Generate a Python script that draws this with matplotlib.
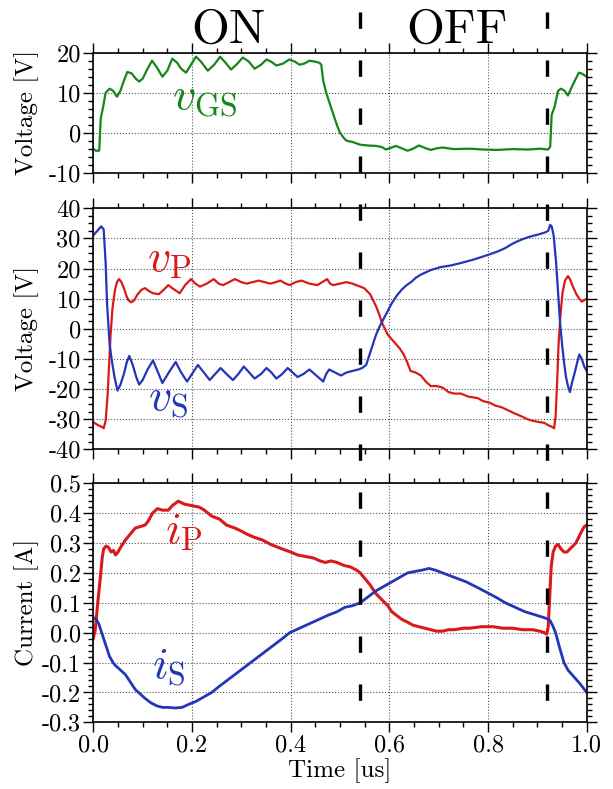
import matplotlib
matplotlib.use('Agg')
import matplotlib.pyplot as plt
import numpy as np
from matplotlib.ticker import MultipleLocator, FormatStrFormatter
from matplotlib.transforms import blended_transform_factory
from matplotlib.lines import Line2D

plt.rcParams['font.family'] = 'serif'
plt.rcParams['font.serif'] = ['cmr10']
plt.rcParams['mathtext.fontset'] = 'cm'
plt.rcParams['axes.unicode_minus'] = False
plt.rcParams['axes.formatter.use_mathtext'] = True

#===============================================================
# DATA
#===============================================================
# gate-source voltage [V]
vgs_pts = [(0.0, -4.0), (0.005, -4.5), (0.012, -4.5), (0.015, 3.5), (0.02, 6.5), (0.025, 10.0),
           (0.033, 11.0), (0.04, 10.5), (0.048, 9.0), (0.055, 10.5), (0.062, 13.0), (0.069, 15.2),
           (0.078, 14.8), (0.086, 13.5), (0.093, 12.8), (0.1, 13.5), (0.11, 16.0), (0.119, 18.0),
           (0.128, 16.5), (0.14, 14.0), (0.15, 15.5), (0.16, 18.5), (0.17, 17.5), (0.178, 16.0),
           (0.188, 15.0), (0.198, 17.0), (0.208, 19.0), (0.218, 17.8), (0.232, 15.5), (0.245, 17.0),
           (0.257, 19.0), (0.268, 17.5), (0.279, 15.8), (0.29, 17.0), (0.303, 18.8), (0.315, 17.8),
           (0.327, 16.0), (0.34, 17.0), (0.351, 18.3), (0.36, 17.8), (0.371, 16.8), (0.385, 17.3),
           (0.397, 18.3), (0.408, 17.8), (0.418, 17.0), (0.428, 17.3), (0.438, 18.0), (0.448, 17.8),
           (0.458, 17.5), (0.462, 17.0), (0.466, 13.0), (0.472, 10.0), (0.48, 7.0), (0.488, 4.0),
           (0.495, 1.5), (0.5, 0.0), (0.507, -1.2), (0.513, -2.0), (0.525, -2.3), (0.541, -3.0),
           (0.557, -3.2), (0.573, -3.3), (0.585, -3.6), (0.593, -4.2), (0.603, -3.8), (0.613, -3.3),
           (0.625, -3.9), (0.637, -4.5), (0.648, -4.0), (0.66, -3.2), (0.672, -3.8), (0.684, -4.3),
           (0.696, -3.9), (0.708, -3.7), (0.73, -4.1), (0.763, -4.0), (0.79, -4.2), (0.819, -4.3),
           (0.85, -4.1), (0.883, -4.2), (0.905, -4.0), (0.922, -4.2), (0.926, -3.5), (0.929, 4.5),
           (0.935, 6.5), (0.942, 10.5), (0.948, 11.0), (0.955, 10.5), (0.962, 9.3), (0.97, 11.5),
           (0.978, 13.5), (0.984, 15.0), (0.99, 14.8), (1.0, 14.0)]

# primary / secondary voltage [V]
vp_pts = [(0.0, -31.0), (0.01, -32.0), (0.017, -32.5), (0.021, -33.0), (0.025, -30.5), (0.029, -22.0),
          (0.032, -12.0), (0.035, -2.0), (0.039, 7.0), (0.044, 13.0), (0.048, 15.5), (0.052, 16.5),
          (0.057, 15.5), (0.062, 13.5), (0.067, 11.0), (0.071, 9.5), (0.077, 8.8), (0.083, 9.5),
          (0.09, 11.5), (0.098, 13.0), (0.105, 13.5), (0.113, 12.5), (0.121, 11.8), (0.133, 11.5),
          (0.143, 13.0), (0.152, 14.5), (0.16, 13.5), (0.175, 11.8), (0.186, 14.5), (0.198, 16.5),
          (0.207, 15.0), (0.216, 14.0), (0.23, 15.0), (0.244, 16.5), (0.254, 15.0), (0.263, 14.5),
          (0.275, 15.5), (0.287, 16.5), (0.3, 15.5), (0.311, 15.0), (0.323, 15.5), (0.335, 16.0),
          (0.347, 15.5), (0.359, 15.0), (0.37, 15.5), (0.379, 16.0), (0.39, 15.0), (0.398, 14.5),
          (0.41, 15.5), (0.422, 16.0), (0.438, 15.0), (0.454, 14.5), (0.464, 15.5), (0.474, 16.5),
          (0.48, 15.0), (0.486, 14.5), (0.5, 15.0), (0.513, 15.5), (0.525, 15.0), (0.533, 14.5),
          (0.541, 14.0), (0.549, 13.5), (0.555, 12.5), (0.561, 11.5), (0.567, 9.5), (0.573, 7.5),
          (0.579, 5.0), (0.585, 2.0), (0.591, 0.0), (0.597, -2.0), (0.605, -3.5), (0.613, -5.0),
          (0.621, -6.5), (0.629, -8.5), (0.636, -11.0), (0.643, -14.0), (0.653, -14.5), (0.664, -15.5),
          (0.674, -17.5), (0.684, -19.0), (0.696, -19.0), (0.708, -19.5), (0.72, -21.0), (0.732, -21.5),
          (0.745, -21.5), (0.76, -22.5), (0.779, -23.0), (0.79, -24.0), (0.803, -24.5), (0.815, -25.5),
          (0.827, -26.0), (0.84, -27.0), (0.853, -28.0), (0.867, -29.0), (0.88, -30.0), (0.89, -30.5),
          (0.905, -31.0), (0.914, -31.2), (0.922, -32.0), (0.929, -32.5), (0.934, -33.0), (0.937, -29.0),
          (0.94, -18.0), (0.943, -5.0), (0.947, 5.0), (0.951, 12.0), (0.956, 16.0), (0.962, 17.5),
          (0.966, 16.5), (0.972, 14.0), (0.979, 11.5), (0.985, 10.0), (0.99, 9.0), (0.995, 9.5),
          (1.0, 10.0)]

vs_pts = [(0.0, 31.0), (0.008, 32.5), (0.016, 34.0), (0.021, 33.0), (0.025, 22.0), (0.028, 8.0),
          (0.033, -5.0), (0.038, -11.0), (0.043, -16.0), (0.049, -20.5), (0.055, -18.5), (0.062, -15.0),
          (0.068, -11.0), (0.073, -9.0), (0.08, -12.0), (0.087, -16.0), (0.093, -18.5), (0.1, -17.0),
          (0.11, -13.5), (0.121, -10.5), (0.13, -14.0), (0.14, -18.0), (0.153, -14.5), (0.167, -11.0),
          (0.178, -14.5), (0.19, -17.5), (0.2, -15.0), (0.212, -12.0), (0.224, -14.5), (0.236, -17.0),
          (0.247, -15.0), (0.258, -13.0), (0.27, -15.0), (0.283, -17.0), (0.294, -15.0), (0.305, -12.5),
          (0.316, -14.5), (0.327, -16.5), (0.34, -15.0), (0.351, -13.0), (0.361, -14.5), (0.371, -16.5),
          (0.383, -15.0), (0.394, -13.0), (0.404, -14.5), (0.414, -16.0), (0.426, -15.0), (0.438, -13.5),
          (0.452, -15.5), (0.466, -17.5), (0.472, -15.0), (0.478, -13.5), (0.49, -14.5), (0.502, -15.5),
          (0.513, -14.5), (0.525, -14.0), (0.537, -13.5), (0.545, -13.0), (0.553, -12.0), (0.561, -8.0),
          (0.567, -5.0), (0.573, -2.0), (0.581, 1.0), (0.589, 3.5), (0.597, 6.0), (0.605, 8.5),
          (0.615, 11.0), (0.625, 13.0), (0.635, 14.5), (0.644, 15.5), (0.654, 17.0), (0.664, 18.0),
          (0.684, 19.5), (0.704, 20.5), (0.724, 21.0), (0.744, 21.8), (0.76, 22.5), (0.775, 23.2),
          (0.79, 24.0), (0.803, 24.7), (0.82, 25.7), (0.835, 26.8), (0.847, 28.0), (0.859, 29.0),
          (0.871, 29.8), (0.883, 30.5), (0.895, 31.0), (0.906, 31.5), (0.916, 32.0), (0.922, 32.5),
          (0.926, 34.5), (0.929, 34.0), (0.933, 31.0), (0.938, 22.0), (0.942, 12.0), (0.946, 2.0),
          (0.95, -5.0), (0.954, -11.0), (0.958, -16.0), (0.962, -19.0), (0.966, -21.0), (0.97, -18.0),
          (0.975, -15.0), (0.981, -11.0), (0.985, -8.5), (0.99, -10.0), (0.995, -12.5), (1.0, -14.0)]

# primary / secondary current [A]
ip_pts = [(0.0, -0.02), (0.004, 0.01), (0.009, 0.10), (0.014, 0.18), (0.018, 0.25), (0.021, 0.28),
          (0.026, 0.29), (0.031, 0.285), (0.036, 0.27), (0.041, 0.275), (0.045, 0.26), (0.05, 0.27),
          (0.057, 0.29), (0.065, 0.31), (0.075, 0.33), (0.085, 0.35), (0.095, 0.355), (0.105, 0.36),
          (0.112, 0.375), (0.12, 0.40), (0.13, 0.415), (0.14, 0.41), (0.152, 0.41), (0.16, 0.425),
          (0.172, 0.44), (0.185, 0.43), (0.2, 0.425), (0.215, 0.42), (0.225, 0.41), (0.24, 0.39),
          (0.256, 0.38), (0.27, 0.36), (0.287, 0.35), (0.3, 0.34), (0.311, 0.33), (0.325, 0.32),
          (0.343, 0.31), (0.36, 0.295), (0.383, 0.28), (0.4, 0.27), (0.414, 0.26), (0.43, 0.255),
          (0.446, 0.25), (0.46, 0.24), (0.47, 0.235), (0.482, 0.24), (0.494, 0.235), (0.508, 0.225),
          (0.521, 0.22), (0.533, 0.21), (0.541, 0.20), (0.551, 0.18), (0.561, 0.16), (0.573, 0.13),
          (0.585, 0.11), (0.597, 0.09), (0.605, 0.07), (0.613, 0.06), (0.625, 0.045), (0.637, 0.035),
          (0.648, 0.025), (0.66, 0.02), (0.672, 0.015), (0.684, 0.01), (0.696, 0.005), (0.708, 0.005),
          (0.72, 0.01), (0.732, 0.01), (0.75, 0.015), (0.763, 0.015), (0.787, 0.02), (0.811, 0.02),
          (0.83, 0.015), (0.85, 0.015), (0.87, 0.01), (0.89, 0.01), (0.905, 0.005), (0.914, 0.0),
          (0.919, -0.005), (0.922, 0.02), (0.925, 0.12), (0.928, 0.22), (0.932, 0.27), (0.937, 0.29),
          (0.942, 0.295), (0.948, 0.28), (0.954, 0.27), (0.96, 0.27), (0.966, 0.28), (0.972, 0.29),
          (0.978, 0.30), (0.984, 0.32), (0.99, 0.34), (0.995, 0.355), (1.0, 0.36)]

is_pts = [(0.0, 0.05), (0.006, 0.045), (0.011, 0.03), (0.017, 0.0), (0.025, -0.04), (0.033, -0.08),
          (0.04, -0.1), (0.045, -0.11), (0.055, -0.125), (0.065, -0.14), (0.075, -0.165), (0.085, -0.19),
          (0.095, -0.205), (0.105, -0.22), (0.117, -0.235), (0.129, -0.245), (0.14, -0.25), (0.152, -0.25),
          (0.165, -0.252), (0.18, -0.25), (0.193, -0.24), (0.208, -0.23), (0.224, -0.215), (0.24, -0.20),
          (0.255, -0.18), (0.271, -0.16), (0.287, -0.14), (0.303, -0.12), (0.319, -0.10), (0.335, -0.08),
          (0.351, -0.06), (0.367, -0.04), (0.383, -0.02), (0.398, 0.0), (0.418, 0.015), (0.438, 0.03),
          (0.458, 0.045), (0.478, 0.06), (0.494, 0.07), (0.51, 0.085), (0.525, 0.09), (0.541, 0.10),
          (0.557, 0.12), (0.573, 0.14), (0.589, 0.155), (0.605, 0.17), (0.621, 0.185), (0.637, 0.20),
          (0.652, 0.205), (0.668, 0.21), (0.68, 0.215), (0.692, 0.21), (0.708, 0.20), (0.724, 0.19),
          (0.74, 0.18), (0.756, 0.17), (0.78, 0.15), (0.803, 0.13), (0.82, 0.115), (0.835, 0.10),
          (0.855, 0.085), (0.875, 0.07), (0.895, 0.06), (0.914, 0.05), (0.922, 0.045), (0.926, 0.04),
          (0.932, 0.02), (0.937, 0.0), (0.945, -0.05), (0.954, -0.10), (0.962, -0.125), (0.97, -0.14),
          (0.978, -0.155), (0.986, -0.17), (0.993, -0.185), (1.0, -0.2)]

switch_times = [0.54, 0.92]
phase_labels = ['ON', 'OFF']
phase_pos = [0.273, 0.737]

GREEN = '#14861a'
RED = '#da1a1a'
BLUE = '#2535b8'

#===============================================================
# PLOTTING
#===============================================================
fig = plt.figure(figsize=(6.13, 7.89), dpi=100)
ax1 = fig.add_axes([0.1522, 0.7811, 0.8049, 0.1521])
ax2 = fig.add_axes([0.1522, 0.4305, 0.8049, 0.3055])
ax3 = fig.add_axes([0.1522, 0.0845, 0.8049, 0.3030])


def style(ax, ylim, major, minor, fmt):
    ax.set_xlim(0, 1)
    ax.set_ylim(*ylim)
    ax.xaxis.set_major_locator(MultipleLocator(0.2))
    ax.xaxis.set_minor_locator(MultipleLocator(0.05))
    ax.yaxis.set_major_locator(MultipleLocator(major))
    ax.yaxis.set_minor_locator(MultipleLocator(minor))
    ax.yaxis.set_major_formatter(FormatStrFormatter(fmt))
    ax.xaxis.set_major_formatter(FormatStrFormatter('%.1f'))
    ax.tick_params(which='both', direction='out', top=True, right=True,
                   labelsize=17.5, width=1.0, pad=2)
    ax.tick_params(which='major', length=7)
    ax.tick_params(which='minor', length=3.5)
    ax.grid(True, which='major', linestyle=':', color='#555555', linewidth=0.8)
    for s in ax.spines.values():
        s.set_linewidth(1.2)


style(ax1, (-10, 20), 10, 2, '%d')
style(ax2, (-40, 40), 10, 2.5, '%d')
style(ax3, (-0.3, 0.5), 0.1, 0.02, '%.1f')
ax1.tick_params(labelbottom=False)
ax2.tick_params(labelbottom=False)

t, v = np.array(vgs_pts).T
ax1.plot(t, v, color=GREEN, lw=1.6)
t, v = np.array(vp_pts).T
ax2.plot(t, v, color=RED, lw=1.6)
t, v = np.array(vs_pts).T
ax2.plot(t, v, color=BLUE, lw=1.6)
t, v = np.array(ip_pts).T
ax3.plot(t, v, color=RED, lw=2.2)
t, v = np.array(is_pts).T
ax3.plot(t, v, color=BLUE, lw=2.0)

ax1.set_ylabel('Voltage [V]', fontsize=18)
ax2.set_ylabel('Voltage [V]', fontsize=18)
ax3.set_ylabel('Current [A]', fontsize=18)
ax3.set_xlabel('Time [us]', fontsize=18, labelpad=1)
for ax in (ax1, ax2, ax3):
    ax.yaxis.set_label_coords(-0.11, 0.5)

# trace names
ax1.text(0.16, 6.0, r'$v_{\mathrm{GS}}$', color=GREEN, fontsize=33)
ax2.text(0.108, 19.0, r'$v_{\mathrm{P}}$', color=RED, fontsize=33)
ax2.text(0.11, -27.0, r'$v_{\mathrm{S}}$', color=BLUE, fontsize=33)
ax3.text(0.146, 0.300, r'$i_{\mathrm{P}}$', color=RED, fontsize=33)
ax3.text(0.119, -0.152, r'$i_{\mathrm{S}}$', color=BLUE, fontsize=33)

# switching instants, across all panels
trans = blended_transform_factory(ax3.transData, fig.transFigure)
for ts in switch_times:
    fig.add_artist(Line2D([ts, ts], [0.985, 0.0845], transform=trans, color='black',
                          lw=2.4, dashes=(4.9, 9.5), clip_on=False, zorder=5))

for lbl, xp in zip(phase_labels, phase_pos):
    fig.text(xp, 0.9455, lbl, transform=trans, ha='center', va='baseline', fontsize=35)

fig.savefig('out.png', dpi=100)
